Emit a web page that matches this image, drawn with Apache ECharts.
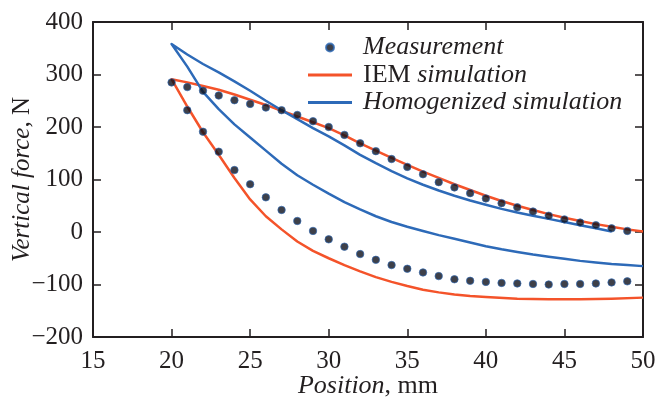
<!DOCTYPE html>
<html><head><meta charset="utf-8">
<script src="https://cdn.jsdelivr.net/npm/echarts@6/dist/echarts.min.js"></script>
<style>html,body{margin:0;padding:0;background:#fff}#c{width:659px;height:399px}</style>
</head><body><div id="c"></div>
<script>
// Measurement (upper branch, x = 20..49; lower branch, x = 21..49)
var measUpperX = [20,21,22,23,24,25,26,27,28,29,30,31,32,33,34,35,36,37,38,39,40,41,42,43,44,45,46,47,48,49];
var measUpperY = [285,276,269,260,251,244,237,232,223,211,200,185,169,154,139,124,110,95,85,74,64,55,47,39,31,24,18,13,7,2];
var measLowerX = [21,22,23,24,25,26,27,28,29,30,31,32,33,34,35,36,37,38,39,40,41,42,43,44,45,46,47,48,49];
var measLowerY = [232,191,153,118,91,66,42,21,2,-14,-28,-42,-53,-63,-70,-77,-84,-90,-93,-95,-97,-98,-99,-100,-99,-99,-98,-96,-94];

// IEM simulation: upper branch (x ascending) and lower branch
var iemUpperX = [20,21,22,23,24,25,26,27,28,29,30,31,32,33,34,35,36,37,38,39,40,41,42,43,44,45,46,47,48,49,50];
var iemUpperY = [291,285,278,271,262,252,242,231,220,209,198,184,169,155,141,128,115,103,91,80,69,59,50,42,34,27,21,15,10,5,1];
var iemLowerX = [20,21,22,23,24,25,26,27,28,29,30,31,32,33,34,35,36,37,38,39,40,42,44,46,48,50];
var iemLowerY = [291,239,190,147,103,62,30,5,-18,-36,-50,-63,-75,-86,-95,-103,-110,-115,-119,-122,-124,-127,-128,-128,-127,-125];

// Homogenized simulation
var homUpperX = [20,21,22,23,24,25,26,27,28,29,30,31,32,33,34,35,36,37,38,39,40,41,42,43,44,45,46,47,48];
var homUpperY = [358,338,320,304,287,269,250,232,215,198,182,165,147,131,116,102,90,79,69,60,52,44,37,31,25,19,13,7,1];
var homLowerX = [20,21,22,23,24,25,26,27,28,29,30,31,32,33,34,35,36,37,38,39,40,41,42,43,44,45,46,47,48,49,50];
var homLowerY = [358,315,267,234,205,180,155,130,108,90,73,57,43,30,19,10,2,-6,-13,-20,-27,-33,-38,-43,-47,-51,-55,-58,-61,-63,-65];

var xTicks = {min:15, max:50, interval:5};
var yTicks = {min:-200, max:400, interval:100};

function loop(ux, uy, lx, ly) {
  var pts = [];
  for (var i = ux.length - 1; i >= 0; i--) pts.push([ux[i], uy[i]]);
  for (var j = 1; j < lx.length; j++) pts.push([lx[j], ly[j]]);
  return pts;
}
function pairs(x, y) { return x.map(function (v, i) { return [v, y[i]]; }); }

var FONT = 'Liberation Serif';
var INK = '#231f20';
var ORANGE = '#f4532a';
var BLUE = '#2d6ab8';
var LINE_ICON = 'path://M0,0H44V3H0Z';

var axisCommon = {
  axisLine: {show: true, onZero: false, lineStyle: {color: INK, width: 2}},
  axisTick: {show: true, inside: true, length: 8, lineStyle: {color: INK, width: 1.5}},
  splitLine: {show: false}
};

var chart = echarts.init(document.getElementById('c'), null, {renderer: 'canvas'});
chart.setOption({
  animation: false,
  backgroundColor: '#fff',
  grid: {left: 93, right: 16, top: 22, bottom: 62, containLabel: false, outerBoundsMode: 'none'},
  legend: {
    orient: 'vertical', left: 308, top: 34, padding: 0,
    itemWidth: 44, itemHeight: 8, itemGap: 0.5,
    data: [
      {name: 'Measurement', icon: 'circle'},
      {name: 'IEM simulation', icon: LINE_ICON},
      {name: 'Homogenized simulation', icon: LINE_ICON}
    ],
    formatter: function (name) {
      if (name === 'IEM simulation') return '{p|}{n|IEM }{i|simulation}';
      return '{p|}{i|' + name + '}';
    },
    textStyle: {
      fontFamily: FONT, fontSize: 26, color: INK, lineHeight: 27,
      rich: {
        p: {width: 6},
        n: {fontFamily: FONT, fontSize: 26, color: INK, lineHeight: 27},
        i: {fontFamily: FONT, fontSize: 26, color: INK, fontStyle: 'italic', lineHeight: 27}
      }
    }
  },
  xAxis: [
    Object.assign({
      type: 'value', position: 'bottom', min: xTicks.min, max: xTicks.max, interval: xTicks.interval,
      axisLabel: {fontFamily: FONT, fontSize: 25, color: INK, margin: 12},
      name: '{i|Position}{n|, mm}', nameLocation: 'middle', nameGap: 36, nameMoveOverlap: false,
      nameTextStyle: {
        rich: {
          i: {fontFamily: FONT, fontSize: 26, color: INK, fontStyle: 'italic'},
          n: {fontFamily: FONT, fontSize: 26, color: INK}
        }
      }
    }, axisCommon),
    Object.assign({
      type: 'value', position: 'top', min: xTicks.min, max: xTicks.max, interval: xTicks.interval,
      axisLabel: {show: false}
    }, axisCommon)
  ],
  yAxis: [
    Object.assign({
      type: 'value', position: 'left', min: yTicks.min, max: yTicks.max, interval: yTicks.interval,
      axisLabel: {fontFamily: FONT, fontSize: 25, color: INK, margin: 10,
        formatter: function (v) { return v < 0 ? '\u2212' + Math.abs(v) : String(v); }},
      name: '{i|Vertical force}{n|, N}', nameLocation: 'middle', nameGap: 58, nameMoveOverlap: false,
      nameTextStyle: {
        rich: {
          i: {fontFamily: FONT, fontSize: 25, color: INK, fontStyle: 'italic'},
          n: {fontFamily: FONT, fontSize: 25, color: INK}
        }
      }
    }, axisCommon),
    Object.assign({
      type: 'value', position: 'right', min: yTicks.min, max: yTicks.max, interval: yTicks.interval,
      axisLabel: {show: false}
    }, axisCommon)
  ],
  series: [
    {
      name: 'Measurement', type: 'scatter', xAxisIndex: 0, yAxisIndex: 0,
      symbol: 'circle', symbolSize: 7.5, z: 5,
      itemStyle: {color: '#0e101c', borderColor: BLUE, borderWidth: 0.8},
      data: pairs(measUpperX, measUpperY).concat(pairs(measLowerX, measLowerY))
    },
    {
      name: 'IEM simulation', type: 'line', xAxisIndex: 0, yAxisIndex: 0,
      symbol: 'none', smooth: false, z: 3,
      lineStyle: {color: ORANGE, width: 2.5, join: 'round'}, itemStyle: {color: ORANGE},
      data: loop(iemUpperX, iemUpperY, iemLowerX, iemLowerY)
    },
    {
      name: 'Homogenized simulation', type: 'line', xAxisIndex: 0, yAxisIndex: 0,
      symbol: 'none', smooth: false, z: 3,
      lineStyle: {color: BLUE, width: 2.5, join: 'round'}, itemStyle: {color: BLUE},
      data: loop(homUpperX, homUpperY, homLowerX, homLowerY)
    }
  ]
});
</script>
</body></html>
